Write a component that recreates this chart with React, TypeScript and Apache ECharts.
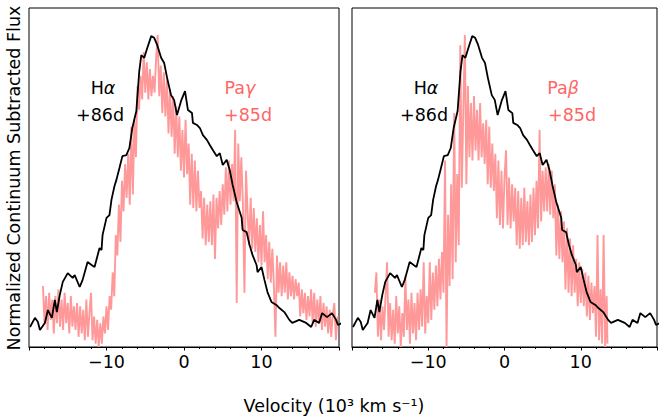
import React, { useEffect, useRef } from "react";
import * as echarts from "echarts";

// H-alpha +86d (velocity in 10^3 km/s, normalized flux)
const HALPHA: [number, number][] = [
  [-19.87, 0.059], [-19.23, 0.086], [-18.85, 0.074], [-18.59, 0.05], [-17.95, 0.071],
  [-17.56, 0.109], [-17.05, 0.086], [-16.67, 0.139], [-16.41, 0.103], [-16.03, 0.153],
  [-15.64, 0.192], [-15.0, 0.218], [-14.36, 0.204], [-14.1, 0.212], [-13.46, 0.177],
  [-13.08, 0.198], [-12.44, 0.251], [-11.92, 0.242], [-11.54, 0.236], [-10.9, 0.292],
  [-10.64, 0.286], [-10.51, 0.33], [-10.0, 0.381], [-9.62, 0.389], [-9.36, 0.434],
  [-8.97, 0.475], [-8.72, 0.493], [-8.33, 0.528], [-7.95, 0.563], [-7.44, 0.566],
  [-7.05, 0.587], [-6.67, 0.646], [-6.15, 0.696], [-5.77, 0.814], [-5.51, 0.861],
  [-5.13, 0.853], [-4.74, 0.882], [-4.23, 0.917], [-3.85, 0.912], [-3.46, 0.891],
  [-2.95, 0.853], [-2.56, 0.838], [-2.18, 0.794], [-1.67, 0.743], [-1.28, 0.729],
  [-0.9, 0.684], [-0.38, 0.726], [0.13, 0.755], [0.51, 0.699], [1.03, 0.69],
  [1.15, 0.661], [1.67, 0.655], [2.05, 0.646], [2.44, 0.625], [2.95, 0.611],
  [3.33, 0.596], [3.72, 0.581], [4.23, 0.563], [4.62, 0.572], [5.0, 0.537],
  [5.51, 0.552], [5.9, 0.522], [6.28, 0.478], [6.79, 0.428], [7.44, 0.381],
  [7.56, 0.345], [8.08, 0.339], [8.46, 0.301], [8.85, 0.271], [9.36, 0.242],
  [9.49, 0.221], [10.0, 0.236], [10.38, 0.198], [10.77, 0.162], [11.28, 0.133],
  [11.92, 0.124], [12.31, 0.115], [12.95, 0.103], [13.59, 0.08], [13.97, 0.071],
  [14.87, 0.08], [15.77, 0.071], [16.41, 0.059], [16.79, 0.08], [17.44, 0.071],
  [17.82, 0.1], [18.46, 0.088], [19.1, 0.1], [19.62, 0.08], [19.87, 0.065],
  [20.3, 0.07],
];

// Pa-gamma +85d
const PAGAMMA: [number, number][] = [
  [-18.2, 0.18], [-18.0, 0.07], [-17.8, 0.15], [-17.6, 0.05], [-17.4, 0.16], [-17.2, 0.08],
  [-17.0, 0.14], [-16.8, 0.04], [-16.6, 0.15], [-16.4, 0.07], [-16.2, 0.17], [-16.0, 0.06],
  [-15.8, 0.14], [-15.6, 0.05], [-15.4, 0.16], [-15.2, 0.07], [-15.0, 0.13], [-14.8, 0.04],
  [-14.6, 0.15], [-14.4, 0.06], [-14.2, 0.12], [-14.0, 0.05], [-13.8, 0.13], [-13.6, 0.03],
  [-13.4, 0.12], [-13.2, 0.04], [-13.0, 0.11], [-12.8, 0.02], [-12.6, 0.14], [-12.4, 0.03],
  [-12.2, 0.1], [-12.0, 0.16], [-11.8, 0.02], [-11.6, 0.09], [-11.4, 0.01], [-11.2, 0.08],
  [-11.0, 0.0], [-10.8, 0.07], [-10.6, 0.01], [-10.4, 0.09], [-10.2, 0.04], [-10.0, 0.12],
  [-9.8, 0.05], [-9.6, 0.15], [-9.4, 0.11], [-9.2, 0.22], [-9.0, 0.15], [-8.8, 0.33],
  [-8.6, 0.27], [-8.4, 0.42], [-8.2, 0.31], [-8.0, 0.49], [-7.8, 0.4], [-7.6, 0.54],
  [-7.4, 0.44], [-7.2, 0.57], [-7.0, 0.42], [-6.8, 0.65], [-6.6, 0.45], [-6.4, 0.67],
  [-6.2, 0.56], [-6.0, 0.77], [-5.8, 0.7], [-5.6, 0.8], [-5.4, 0.73], [-5.2, 0.87],
  [-5.0, 0.75], [-4.8, 0.84], [-4.6, 0.73], [-4.4, 0.82], [-4.2, 0.74], [-4.0, 0.8],
  [-3.8, 0.75], [-3.6, 0.85], [-3.4, 0.92], [-3.2, 0.74], [-3.0, 0.83], [-2.8, 0.69],
  [-2.6, 0.81], [-2.4, 0.68], [-2.2, 0.79], [-2.0, 0.63], [-1.8, 0.76], [-1.6, 0.62],
  [-1.4, 0.74], [-1.2, 0.57], [-1.0, 0.71], [-0.8, 0.56], [-0.6, 0.68], [-0.4, 0.52],
  [-0.2, 0.64], [0.0, 0.5], [0.2, 0.67], [0.4, 0.51], [0.6, 0.6], [0.8, 0.42],
  [1.0, 0.57], [1.2, 0.41], [1.4, 0.55], [1.6, 0.4], [1.8, 0.52], [2.0, 0.41],
  [2.2, 0.46], [2.4, 0.32], [2.6, 0.44], [2.8, 0.3], [3.0, 0.42], [3.2, 0.31],
  [3.4, 0.43], [3.6, 0.3], [3.8, 0.45], [4.0, 0.26], [4.2, 0.44], [4.4, 0.35],
  [4.6, 0.46], [4.8, 0.36], [5.0, 0.48], [5.2, 0.39], [5.4, 0.53], [5.6, 0.4],
  [5.8, 0.55], [6.0, 0.42], [6.2, 0.54], [6.4, 0.43], [6.6, 0.64], [6.8, 0.13],
  [7.0, 0.6], [7.2, 0.43], [7.4, 0.56], [7.6, 0.42], [7.8, 0.16], [8.0, 0.52],
  [8.2, 0.4], [8.4, 0.3], [8.6, 0.44], [8.8, 0.29], [9.0, 0.41], [9.2, 0.28],
  [9.4, 0.38], [9.6, 0.25], [9.8, 0.36], [10.0, 0.24], [10.2, 0.4], [10.4, 0.25],
  [10.6, 0.33], [10.8, 0.2], [11.0, 0.31], [11.2, 0.19], [11.4, 0.29], [11.6, 0.18],
  [11.8, 0.03], [12.0, 0.27], [12.2, 0.16], [12.4, 0.25], [12.6, 0.15], [12.8, 0.24],
  [13.0, 0.16], [13.2, 0.25], [13.4, 0.14], [13.6, 0.22], [13.8, 0.15], [14.0, 0.21],
  [14.2, 0.14], [14.4, 0.2], [14.6, 0.15], [14.8, 0.19], [15.0, 0.09], [15.2, 0.17],
  [15.4, 0.1], [15.6, 0.16], [15.8, 0.08], [16.0, 0.15], [16.2, 0.09], [16.4, 0.17],
  [16.6, 0.07], [16.8, 0.16], [17.0, 0.06], [17.2, 0.14], [17.4, 0.07], [17.6, 0.15],
  [17.8, 0.05], [18.0, 0.13], [18.2, 0.06], [18.4, 0.12], [18.6, 0.04], [18.8, 0.11],
  [19.0, 0.03], [19.2, 0.1], [19.4, 0.13], [19.6, 0.02], [19.8, 0.09],
];

// Pa-beta +85d
const PABETA: [number, number][] = [
  [-17.0, 0.16], [-16.8, 0.22], [-16.6, 0.03], [-16.4, 0.14], [-16.2, 0.02], [-16.0, 0.12],
  [-15.8, 0.05], [-15.6, 0.15], [-15.4, 0.25], [-15.2, 0.03], [-15.0, 0.13], [-14.8, 0.02],
  [-14.6, 0.11], [-14.4, 0.01], [-14.2, 0.15], [-14.0, 0.04], [-13.8, 0.12], [-13.6, 0.0],
  [-13.4, 0.1], [-13.2, 0.03], [-13.0, 0.21], [-12.8, 0.05], [-12.6, 0.14], [-12.4, 0.01],
  [-12.2, 0.16], [-12.0, 0.04], [-11.8, 0.13], [-11.6, 0.02], [-11.4, 0.16], [-11.2, 0.05],
  [-11.0, 0.17], [-10.8, 0.06], [-10.6, 0.25], [-10.4, 0.04], [-10.2, 0.15], [-10.0, 0.07],
  [-9.8, 0.25], [-9.6, 0.08], [-9.4, 0.22], [-9.2, 0.11], [-9.0, 0.24], [-8.8, 0.12],
  [-8.6, 0.26], [-8.4, 0.14], [-8.2, 0.28], [-8.0, 0.16], [-7.8, 0.55], [-7.6, 0.0],
  [-7.4, 0.39], [-7.2, 0.18], [-7.0, 0.48], [-6.8, 0.2], [-6.6, 0.69], [-6.4, 0.25],
  [-6.2, 0.51], [-6.0, 0.3], [-5.8, 0.89], [-5.6, 0.47], [-5.4, 0.7], [-5.2, 0.92],
  [-5.0, 0.48], [-4.8, 0.77], [-4.6, 0.56], [-4.4, 0.72], [-4.2, 0.55], [-4.0, 0.74],
  [-3.8, 0.58], [-3.6, 0.7], [-3.4, 0.55], [-3.2, 0.72], [-3.0, 0.56], [-2.8, 0.66],
  [-2.6, 0.54], [-2.4, 0.67], [-2.2, 0.48], [-2.0, 0.65], [-1.8, 0.47], [-1.6, 0.6],
  [-1.4, 0.46], [-1.2, 0.57], [-1.0, 0.38], [-0.8, 0.55], [-0.6, 0.36], [-0.4, 0.52],
  [-0.2, 0.35], [0.0, 0.5], [0.2, 0.58], [0.4, 0.36], [0.6, 0.5], [0.8, 0.35],
  [1.0, 0.48], [1.2, 0.37], [1.4, 0.47], [1.6, 0.3], [1.8, 0.46], [2.0, 0.29],
  [2.2, 0.44], [2.4, 0.3], [2.6, 0.47], [2.8, 0.31], [3.0, 0.43], [3.2, 0.3],
  [3.4, 0.45], [3.6, 0.31], [3.8, 0.47], [4.0, 0.33], [4.2, 0.49], [4.4, 0.35],
  [4.6, 0.64], [4.8, 0.37], [5.0, 0.52], [5.2, 0.4], [5.4, 0.53], [5.6, 0.4],
  [5.8, 0.54], [6.0, 0.39], [6.2, 0.52], [6.4, 0.38], [6.6, 0.48], [6.8, 0.27],
  [7.0, 0.42], [7.2, 0.26], [7.4, 0.4], [7.6, 0.25], [7.8, 0.37], [8.0, 0.17],
  [8.2, 0.35], [8.4, 0.16], [8.6, 0.32], [8.8, 0.15], [9.0, 0.3], [9.2, 0.16],
  [9.4, 0.26], [9.6, 0.12], [9.8, 0.25], [10.0, 0.13], [10.2, 0.23], [10.4, 0.12],
  [10.6, 0.22], [10.8, 0.09], [11.0, 0.21], [11.2, 0.08], [11.4, 0.19], [11.6, 0.1],
  [11.8, 0.18], [12.0, 0.03], [12.2, 0.33], [12.4, 0.02], [12.6, 0.17], [12.8, 0.01],
  [13.0, 0.33], [13.2, 0.0], [13.4, 0.15], [13.5, 0.01],
];

const X_MIN = -20;
const X_MAX = 20;
const X_INTERVAL = 10;

const BLACK = "#000000";
const PINK_LINE = "#ff9999";
const PINK_TEXT = "#ff6666";
const FONT = "DejaVu Sans";
const FS = 17.5;

export default function App() {
  const ref = useRef<HTMLDivElement>(null);

  useEffect(() => {
    if (!ref.current) return;
    const chart = echarts.init(ref.current, undefined, { renderer: "svg" });

    const mkX = (i: number) => ({
      type: "value",
      gridIndex: i,
      min: X_MIN,
      max: X_MAX,
      interval: X_INTERVAL,
      axisLine: { show: true, onZero: false, lineStyle: { color: BLACK, width: 1 } },
      axisTick: { show: true, inside: false, length: 3.5, lineStyle: { color: BLACK, width: 1 } },
      minorTick: { show: true, splitNumber: 5, length: 2, lineStyle: { color: BLACK, width: 1 } },
      splitLine: { show: false },
      minorSplitLine: { show: false },
      axisLabel: {
        show: true,
        fontSize: FS,
        fontFamily: FONT,
        color: BLACK,
        margin: 6,
        formatter: (v: number) => (Math.abs(v) >= 20 ? "" : String(v).replace("-", "\u2212")),
      },
    });
    const mkY = (i: number) => ({
      type: "value",
      gridIndex: i,
      min: 0,
      max: 1,
      axisLine: { show: false },
      axisTick: { show: false },
      axisLabel: { show: false },
      splitLine: { show: false },
    });

    const txt = (x: number, y: number, text: string, color: string, rich?: any) => ({
      type: "text",
      x,
      y,
      style: {
        text,
        fill: color,
        font: `${FS}px "${FONT}"`,
        fontSize: FS,
        fontFamily: FONT,
        align: "center",
        verticalAlign: "middle",
        textAlign: "center",
        textVerticalAlign: "middle",
        rich,
      },
    });
    const italic = { i: { fontStyle: "italic", fontSize: FS, fontFamily: FONT } };

    const option: any = {
      animation: false,
      backgroundColor: "#ffffff",
      grid: [
        { left: 29, top: 8, width: 310, height: 339, show: true, borderColor: BLACK, borderWidth: 1, backgroundColor: "transparent" },
        { left: 352, top: 8, width: 310, height: 339, show: true, borderColor: BLACK, borderWidth: 1, backgroundColor: "transparent" },
      ],
      xAxis: [mkX(0), mkX(1)],
      yAxis: [mkY(0), mkY(1)],
      series: [
        { type: "line", xAxisIndex: 0, yAxisIndex: 0, data: PAGAMMA, showSymbol: false, symbol: "none", lineStyle: { color: PINK_LINE, width: 1.9 }, z: 1 },
        { type: "line", xAxisIndex: 0, yAxisIndex: 0, data: HALPHA, showSymbol: false, symbol: "none", lineStyle: { color: BLACK, width: 1.8 }, z: 2 },
        { type: "line", xAxisIndex: 1, yAxisIndex: 1, data: PABETA, showSymbol: false, symbol: "none", lineStyle: { color: PINK_LINE, width: 1.9 }, z: 1 },
        { type: "line", xAxisIndex: 1, yAxisIndex: 1, data: HALPHA, showSymbol: false, symbol: "none", lineStyle: { color: BLACK, width: 1.8 }, z: 2 },
      ],
      graphic: [
        txt(103, 88, "H{i|\u03b1}", BLACK, italic),
        txt(100, 115, "+86d", BLACK),
        txt(240, 88, "Pa{i|\u03b3}", PINK_TEXT, { i: { ...italic.i, fill: PINK_TEXT, color: PINK_TEXT } }),
        txt(248, 115, "+85d", PINK_TEXT),
        txt(426, 88, "H{i|\u03b1}", BLACK, italic),
        txt(424, 115, "+86d", BLACK),
        txt(563, 88, "Pa{i|\u03b2}", PINK_TEXT, { i: { ...italic.i, fill: PINK_TEXT, color: PINK_TEXT } }),
        txt(572, 115, "+85d", PINK_TEXT),
        {
          type: "text",
          x: 14,
          y: 178,
          rotation: Math.PI / 2,
          style: {
            text: "Normalized Continuum Subtracted Flux",
            fill: BLACK,
            font: `${FS}px "${FONT}"`,
            align: "center",
            verticalAlign: "middle",
            textAlign: "center",
            textVerticalAlign: "middle",
          },
        },
        txt(334, 406, "Velocity (10\u00b3 km s\u207b\u00b9)", BLACK),
      ],
    };

    chart.setOption(option);
    return () => chart.dispose();
  }, []);

  return (
    <div
      ref={ref}
      style={{ position: "absolute", left: 0, top: 0, width: 660, height: 419, background: "#fff" }}
    />
  );
}
